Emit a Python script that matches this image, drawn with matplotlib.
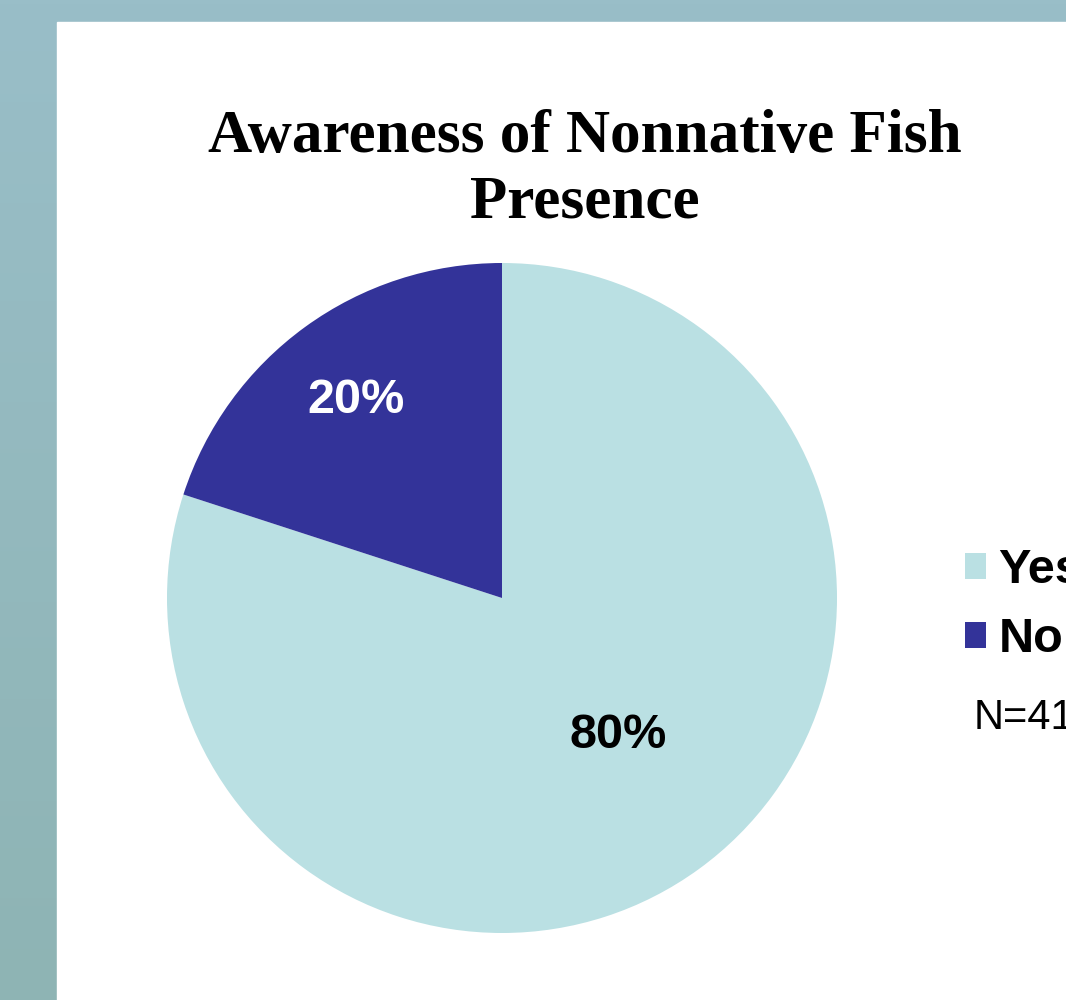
import numpy as np
import matplotlib
matplotlib.use("Agg")
import matplotlib.pyplot as plt
from matplotlib.patches import Rectangle, Patch

# === Data ===
LABELS = ["Yes", "No"]
SHARES = [80, 20]
COLORS = ["#BAE0E3", "#333399"]
PCT_COLORS = ["black", "white"]
TITLE_LINES = ["Awareness of Nonnative Fish", "Presence"]
NOTE = "N=41"

# === Figure & background ===
fig = plt.figure(figsize=(10.66, 10.0), dpi=100)
bg = fig.add_axes([0, 0, 1, 1], zorder=-10)
grad = np.linspace(0, 1, 256).reshape(-1, 1)
bg.imshow(grad, aspect="auto", extent=[0, 1, 0, 1], origin="upper",
          cmap=matplotlib.colors.LinearSegmentedColormap.from_list(
              "bg", ["#99BEC8", "#8EB4B4"]))
bg.set_axis_off()
# white slide panel
bg.add_patch(Rectangle((57 / 1066, 0), 1, 1 - 22 / 1000,
                       transform=bg.transAxes, color="white", zorder=2))

# === Title ===
title_kw = dict(ha="center", va="baseline", fontsize=44, fontweight="bold",
                family="Liberation Serif")
fig.text(585 / 1066, 1 - 152 / 1000, TITLE_LINES[0], **title_kw)
fig.text(585 / 1066, 1 - 218 / 1000, TITLE_LINES[1], **title_kw)

# === Pie ===
ax = fig.add_axes([167 / 1066, 67 / 1000, 670 / 1066, 670 / 1000])
wedges, _ = ax.pie(SHARES, colors=COLORS, startangle=90, counterclock=False,
                   wedgeprops=dict(linewidth=0))
ax.set_xlim(-1, 1)
ax.set_ylim(-1, 1)
ax.set_aspect("equal")

label_dist = [0.53, 0.74]
label_shift = [5, 0]  # Excel nudges the big label a little toward the edge
for w, val, col, d, s in zip(wedges, SHARES, PCT_COLORS, label_dist, label_shift):
    mid = np.deg2rad((w.theta1 + w.theta2) / 2 + s)
    ax.text(d * np.cos(mid), d * np.sin(mid) - 0.01, f"{val}%", ha="center",
            va="center", color=col, fontsize=35, fontweight="bold",
            family="Liberation Sans")

# === Legend (runs off the right edge like the original) ===
handles = [Patch(facecolor=c, edgecolor="none") for c in COLORS]
fig.legend(handles, LABELS, loc="upper left",
           bbox_to_anchor=(965 / 1066, 1 - 548 / 1000), frameon=False,
           prop=dict(family="Liberation Sans", weight="bold", size=35),
           handlelength=0.44, handleheight=0.44, handletextpad=0.25,
           labelspacing=0.5, borderpad=0, borderaxespad=0)

fig.text(974 / 1066, 1 - 729 / 1000, NOTE, ha="left", va="baseline",
         fontsize=30, family="Liberation Sans")

plt.savefig("out.png", dpi=100)
